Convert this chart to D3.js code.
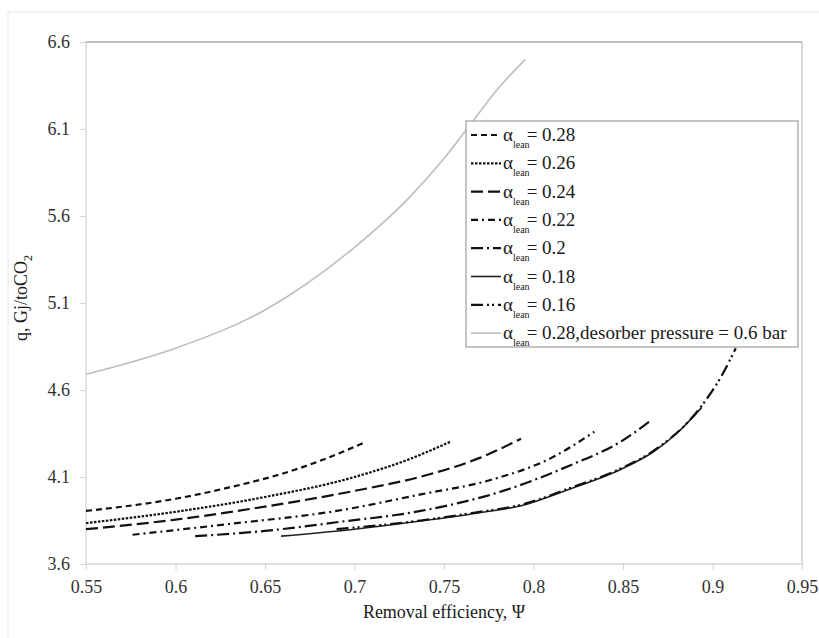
<!DOCTYPE html>
<html>
<head>
<meta charset="utf-8">
<script src="https://cdn.jsdelivr.net/npm/d3@7"></script>
<style>
  body { margin: 0; background: #fff; }
  text { font-family: "Liberation Serif", "Times New Roman", serif; fill: #1a1a1a; }
  .ax path { display: none; }
  .ax line { stroke: #d4d4d4; }
</style>
</head>
<body>
<svg id="chart"></svg>
<script>
// TICKS
var xTicks = [0.55, 0.6, 0.65, 0.7, 0.75, 0.8, 0.85, 0.9, 0.95];
var yTicks = [3.6, 4.1, 4.6, 5.1, 5.6, 6.1, 6.6];

// SERIES (removal efficiency, q)
var lean028 = [[0.55,3.905],[0.60,3.975],[0.63,4.04],[0.66,4.12],[0.68,4.19],[0.706,4.30]];
var lean026 = [[0.55,3.835],[0.60,3.90],[0.65,3.985],[0.70,4.10],[0.73,4.20],[0.754,4.305]];
var lean024 = [[0.55,3.80],[0.60,3.855],[0.65,3.93],[0.70,4.02],[0.74,4.11],[0.77,4.21],[0.793,4.32]];
var lean022 = [[0.576,3.768],[0.63,3.83],[0.69,3.905],[0.737,4.0],[0.775,4.08],[0.81,4.21],[0.834,4.36]];
var lean020 = [[0.611,3.76],[0.65,3.79],[0.69,3.84],[0.737,3.905],[0.783,4.02],[0.82,4.165],[0.849,4.305],[0.865,4.42]];
var lean018 = [[0.659,3.76],[0.70,3.80],[0.737,3.847],[0.77,3.895],[0.793,3.935],[0.82,4.03],[0.849,4.145],[0.867,4.245],[0.88,4.35],[0.894,4.50]];
var lean016 = [[0.69,3.80],[0.737,3.85],[0.77,3.90],[0.793,3.94],[0.82,4.035],[0.849,4.15],[0.867,4.25],[0.894,4.51],[0.905,4.68],[0.913,4.84]];
var lowPressure = [[0.55,4.69],[0.60,4.84],[0.65,5.06],[0.70,5.42],[0.73,5.70],[0.75,5.93],[0.765,6.13],[0.78,6.33],[0.7955,6.50]];

var legendValues = ["0.28", "0.26", "0.24", "0.22", "0.2", "0.18", "0.16", "0.28"];
var legendExtra = ["", "", "", "", "", "", "", ",desorber pressure = 0.6 bar"];

var series = [
  { data: lean028, dash: "6,4", color: "#111", w: 2.2 },
  { data: lean026, dash: "2.5,1.5", color: "#111", w: 2.2 },
  { data: lean024, dash: "12,5", color: "#111", w: 2.2 },
  { data: lean022, dash: "7,4,2,4", color: "#111", w: 2.2 },
  { data: lean020, dash: "12,4,2,4", color: "#111", w: 2.2 },
  { data: lean018, dash: null, color: "#222", w: 1.6 },
  { data: lean016, dash: "12,4,2,3,2,4", color: "#111", w: 2.2 },
  { data: lowPressure, dash: null, color: "#bdbdbd", w: 1.6 }
];

// DRAWING AREA
var width = 819, height = 638;
var marginLeft = 86, marginRight = 802, marginTop = 42, marginBottom = 564;
var serif = "'Liberation Serif', 'Times New Roman', serif";

var svg = d3.select("#chart").attr("width", width).attr("height", height);

// outer chart border
svg.append("rect")
  .attr("x", 8).attr("y", 12).attr("width", 830).attr("height", 660)
  .attr("fill", "none").attr("stroke", "#e6e6e6");

var xScale = d3.scaleLinear().domain([0.55, 0.95]).range([marginLeft, marginRight]);
var yScale = d3.scaleLinear().domain([3.6, 6.6]).range([marginBottom, marginTop]);

// plot frame
svg.append("line").attr("x1", marginLeft).attr("x2", marginRight).attr("y1", marginTop).attr("y2", marginTop)
  .attr("stroke", "#a6a6a6").attr("stroke-width", 1.3);
svg.append("line").attr("x1", marginRight).attr("x2", marginRight).attr("y1", marginTop).attr("y2", marginBottom)
  .attr("stroke", "#c4c4c4").attr("stroke-width", 1.3);
svg.append("line").attr("x1", marginLeft).attr("x2", marginLeft).attr("y1", marginTop).attr("y2", marginBottom)
  .attr("stroke", "#d4d4d4").attr("stroke-width", 1.3);
svg.append("line").attr("x1", marginLeft).attr("x2", marginRight).attr("y1", marginBottom).attr("y2", marginBottom)
  .attr("stroke", "#d4d4d4").attr("stroke-width", 1.3);

// AXES
svg.append("g")
  .attr("class", "ax")
  .attr("transform", "translate(0," + marginBottom + ")")
  .call(d3.axisBottom(xScale).tickValues(xTicks).tickSize(6).tickPadding(10)
    .tickFormat(function(d) { return String(+d.toFixed(2)); }))
  .attr("font-family", serif)
  .selectAll("text").style("font-size", "18px").style("font-family", serif).style("fill", "#333");

svg.append("g")
  .attr("class", "ax")
  .attr("transform", "translate(" + marginLeft + ",0)")
  .call(d3.axisLeft(yScale).tickValues(yTicks).tickSize(6).tickPadding(10)
    .tickFormat(d3.format(".1f")))
  .attr("font-family", serif)
  .selectAll("text").style("font-size", "18px").style("font-family", serif).style("fill", "#333");

// AXIS TITLES
svg.append("text")
  .attr("x", (marginLeft + marginRight) / 2).attr("y", 618)
  .attr("text-anchor", "middle").style("font-size", "18px").style("font-family", serif)
  .text("Removal efficiency, \u03A8");

var yTitle = svg.append("text")
  .attr("transform", "translate(27,298) rotate(-90)")
  .attr("text-anchor", "middle").style("font-size", "18px").style("font-family", serif);
yTitle.append("tspan").text("q, Gj/toCO");
yTitle.append("tspan").attr("dy", 5).style("font-size", "12px").text("2");

// LINES
var line = d3.line()
  .x(function(d) { return xScale(d[0]); })
  .y(function(d) { return yScale(d[1]); })
  .curve(d3.curveMonotoneX);

svg.selectAll("path.series")
  .data(series)
  .enter()
  .append("path")
  .attr("class", "series")
  .attr("d", function(d) { return line(d.data); })
  .attr("fill", "none")
  .attr("stroke", function(d) { return d.color; })
  .attr("stroke-width", function(d) { return d.w; })
  .attr("stroke-dasharray", function(d) { return d.dash; });

// LEGEND
var legend = svg.append("g").attr("transform", "translate(466,121)");
legend.append("rect")
  .attr("width", 332).attr("height", 226)
  .attr("fill", "#fff").attr("stroke", "#a6a6a6").attr("stroke-width", 1.3);

var rows = legend.selectAll("g.row")
  .data(series)
  .enter()
  .append("g")
  .attr("class", "row")
  .attr("transform", function(d, i) { return "translate(0," + (14 + i * 28.3) + ")"; });

rows.append("line")
  .attr("x1", 5).attr("x2", 35).attr("y1", 0).attr("y2", 0)
  .attr("stroke", function(d) { return d.color; })
  .attr("stroke-width", function(d) { return d.w; })
  .attr("stroke-dasharray", function(d) { return d.dash; });

var labels = rows.append("text")
  .attr("x", 37).attr("y", 6)
  .style("font-size", "19px").style("font-family", serif);
labels.append("tspan").text("\u03B1");
labels.append("tspan").attr("dy", 7).style("font-size", "10px").text("lean");
labels.append("tspan").attr("dy", -7).attr("dx", -3)
  .text(function(d, i) { return "= " + legendValues[i] + legendExtra[i]; });
</script>
</body>
</html>
